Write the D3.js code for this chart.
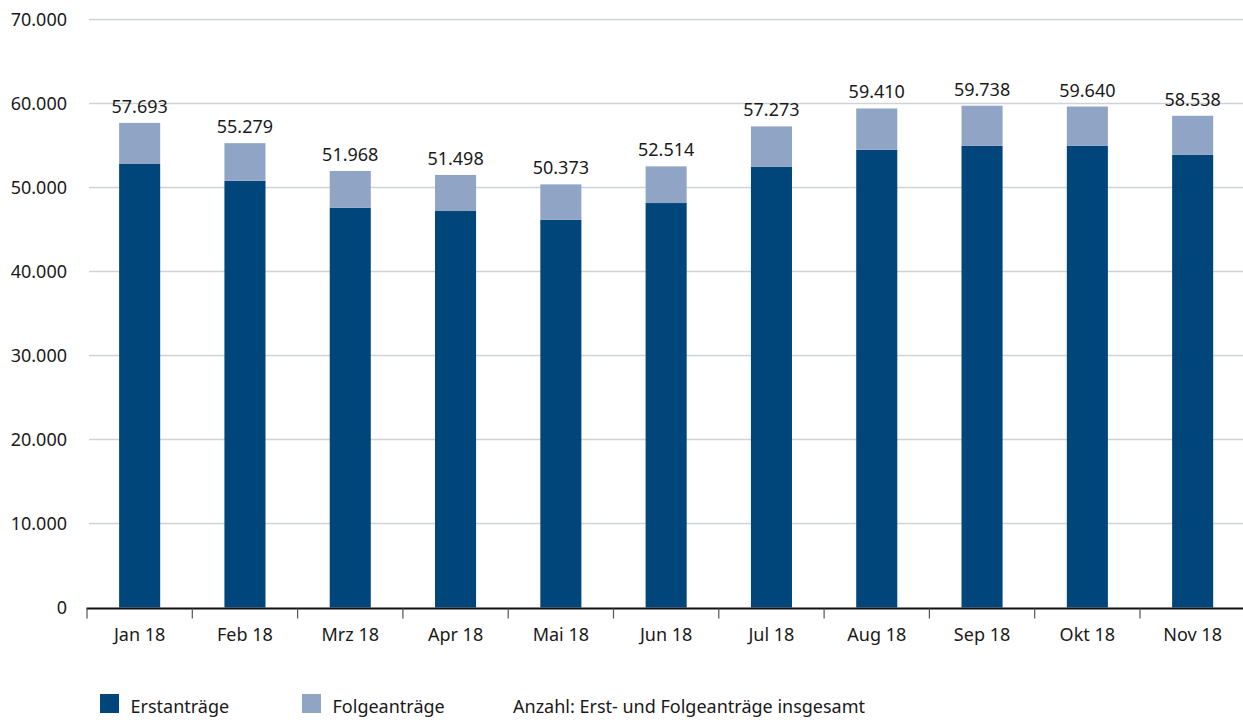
<!DOCTYPE html>
<html lang="de">
<head>
<meta charset="utf-8">
<script src="https://cdn.jsdelivr.net/npm/d3@7"></script>
<style>
  html, body { margin: 0; padding: 0; background: #fff; }
  svg { display: block; font-family: "Noto Sans", "Open Sans", sans-serif; }
</style>
</head>
<body>
<svg id="chart" width="1243" height="720"></svg>
<script>
// Monatliche Asylanträge 2018
const months = ["Jan 18", "Feb 18", "Mrz 18", "Apr 18", "Mai 18", "Jun 18",
                "Jul 18", "Aug 18", "Sep 18", "Okt 18", "Nov 18"];
const totals = [57693, 55279, 51968, 51498, 50373, 52514, 57273, 59410, 59738, 59640, 58538];
const erstantraege = [52800, 50800, 47600, 47200, 46150, 48150, 52450, 54480, 54950, 54950, 53880];
const folgeantraege = totals.map((t, i) => t - erstantraege[i]);
const yTicks = [0, 10000, 20000, 30000, 40000, 50000, 60000, 70000];
const seriesNames = ["Erstanträge", "Folgeanträge"];
const noteText = "Anzahl: Erst- und Folgeanträge insgesamt";

const colors = { erst: "#00467a", folge: "#90a5c5", text: "#1a1a1a", grid: "#cfd3d6" };
const fmt = d3.formatLocale({ decimal: ",", thousands: ".", grouping: [3], currency: ["", "€"] }).format(",d");

const svg = d3.select("#chart");
const x = d3.scaleBand().domain(months).range([87, 1245.3]).paddingInner(0.61).paddingOuter(0.305);
const y = d3.scaleLinear().domain([0, 70000]).range([607.5, 19.5]);

// Gitternetzlinien
svg.append("g")
  .selectAll("line")
  .data(yTicks.filter(d => d > 0))
  .join("line")
  .attr("x1", 89).attr("x2", 1243)
  .attr("y1", d => y(d)).attr("y2", d => y(d))
  .attr("stroke", colors.grid).attr("stroke-width", 1.5);

// Y-Achsenbeschriftung
svg.append("g")
  .selectAll("text")
  .data(yTicks)
  .join("text")
  .attr("x", 67).attr("y", d => y(d)).attr("dy", "0.35em")
  .attr("text-anchor", "end")
  .attr("font-size", 18).attr("fill", colors.text)
  .text(d => fmt(d));

// Gestapelte Säulen
const rows = months.map((m, i) => ({ m, erst: erstantraege[i], folge: folgeantraege[i], total: totals[i] }));
const stack = d3.stack().keys(["erst", "folge"])(rows);
svg.append("g")
  .selectAll("g")
  .data(stack)
  .join("g")
  .attr("fill", d => colors[d.key])
  .selectAll("rect")
  .data(d => d)
  .join("rect")
  .attr("x", d => x(d.data.m))
  .attr("width", x.bandwidth())
  .attr("y", d => y(d[1]))
  .attr("height", d => y(d[0]) - y(d[1]));

// Summenwerte über den Säulen
svg.append("g")
  .selectAll("text")
  .data(rows)
  .join("text")
  .attr("x", d => x(d.m) + x.bandwidth() / 2)
  .attr("y", d => y(d.total) - 10)
  .attr("text-anchor", "middle")
  .attr("font-size", 18).attr("fill", colors.text)
  .text(d => fmt(d.total));

// X-Achse
const xAxis = svg.append("g").attr("transform", "translate(0,608.5)");
xAxis.append("line")
  .attr("x1", 86.5).attr("x2", 1243)
  .attr("stroke", "#111").attr("stroke-width", 2);
const bounds = d3.range(months.length + 1).map(i => 87 + i * x.step());
xAxis.selectAll(".tick")
  .data(bounds)
  .join("line")
  .attr("class", "tick")
  .attr("x1", d => d).attr("x2", d => d)
  .attr("y1", 0).attr("y2", 10)
  .attr("stroke", "#555").attr("stroke-width", 1.2);
xAxis.selectAll("text")
  .data(months)
  .join("text")
  .attr("x", d => x(d) + x.bandwidth() / 2)
  .attr("y", 32.5)
  .attr("text-anchor", "middle")
  .attr("font-size", 18).attr("fill", colors.text)
  .text(d => d);

// Legende
const legend = svg.append("g");
const legendItems = [
  { name: seriesNames[0], color: colors.erst, x: 100 },
  { name: seriesNames[1], color: colors.folge, x: 302 }
];
legend.selectAll("rect")
  .data(legendItems)
  .join("rect")
  .attr("x", d => d.x).attr("y", 694)
  .attr("width", 19).attr("height", 19)
  .attr("fill", d => d.color);
legend.selectAll("text.item")
  .data(legendItems)
  .join("text")
  .attr("class", "item")
  .attr("x", d => d.x + 30.5).attr("y", 712.5)
  .attr("font-size", 18).attr("fill", colors.text)
  .text(d => d.name);
legend.append("text")
  .attr("x", 513).attr("y", 712.5)
  .attr("font-size", 18).attr("fill", colors.text)
  .text(noteText);
</script>
</body>
</html>
